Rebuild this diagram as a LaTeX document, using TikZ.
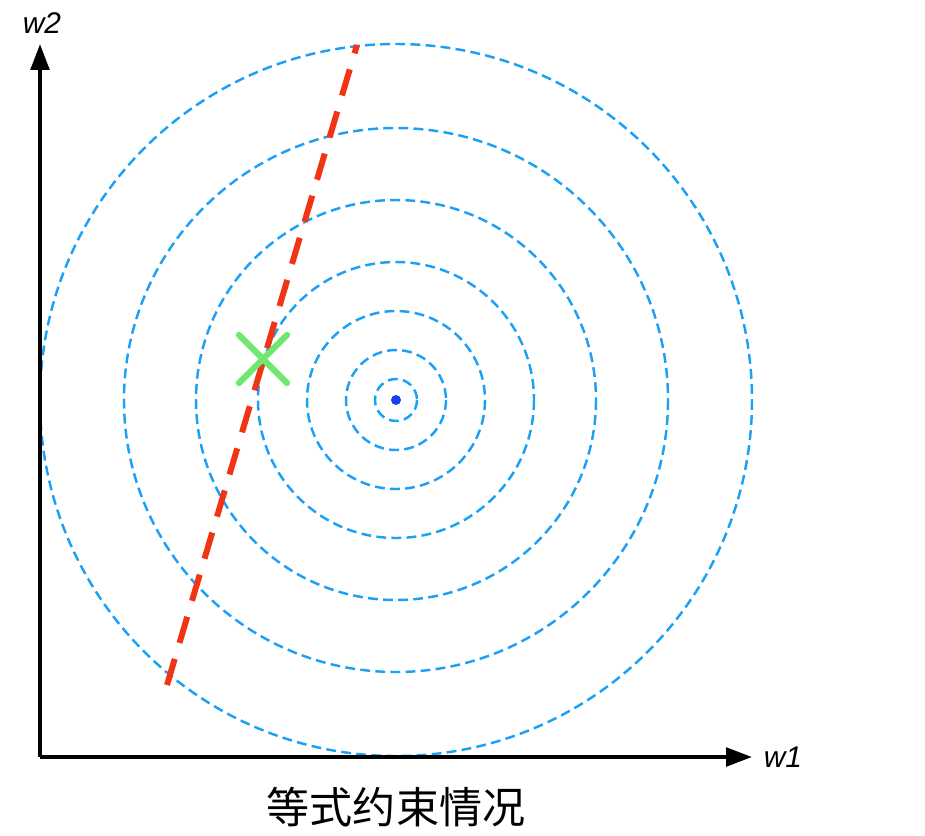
\documentclass[tikz,border=0pt]{standalone}
\usepackage{fontspec}
\setmainfont{Liberation Sans}
\newfontfamily\cjk{Noto Sans CJK SC}
\usepackage{xcolor}
\usetikzlibrary{calc,arrows.meta,positioning}
\definecolor{ringc}{RGB}{28,160,245}
\definecolor{consc}{RGB}{242,52,22}
\definecolor{optc}{RGB}{112,232,112}
\definecolor{dotc}{RGB}{24,64,236}

\begin{document}
\begin{tikzpicture}[
  x=0.02cm, y=-0.02cm,
  >={Triangle[length=5.2mm, width=3.7mm]},
  ax/.style={->, line width=2.3pt, black},
  ring/.style={ringc, line width=1.4pt, dash pattern=on 5.6pt off 3pt},
  cons/.style={consc, line width=3.4pt, dash pattern=on 15.5pt off 9.5pt},
  opt/.style={optc, line width=3.6pt, line cap=round},
  lab/.style={font=\itshape\fontsize{17}{19}\selectfont, inner sep=0pt},
]
\useasboundingbox (0,0) rectangle (925,835);

\coordinate (o)  at (40,757);
\coordinate (ty) at (40,44);
\coordinate (tx) at (752,757);
\coordinate (c)  at (396,400);

% contours of the loss
\foreach \r in {356,272,200,138,89,50,21}
  \draw[ring] (c) circle[radius=\r];
\fill[dotc] (c) circle[radius=5];

% equality constraint
\coordinate (ca) at (167,685);
\coordinate (cb) at (357,45);
\draw[cons] (ca) -- (cb);

% solution on the constraint
\coordinate (s)  at (263,359);
\draw[opt] ($(s)+(-24,-24)$) -- ($(s)+(24,24)$);
\draw[opt] ($(s)+(-24,24)$) -- ($(s)+(24,-24)$);

\draw[ax] (o) -- (ty);
\draw[ax] (o) -- (tx);
\node[lab, anchor=base] (w2) at (42,33) {w2};
\node[lab, right=6.5pt of tx] (w1) {w1};

\node[font=\cjk\fontsize{24.5}{28}\selectfont, inner sep=0pt] (cap) at (396,807)
  {等式约束情况};
\end{tikzpicture}
\end{document}
